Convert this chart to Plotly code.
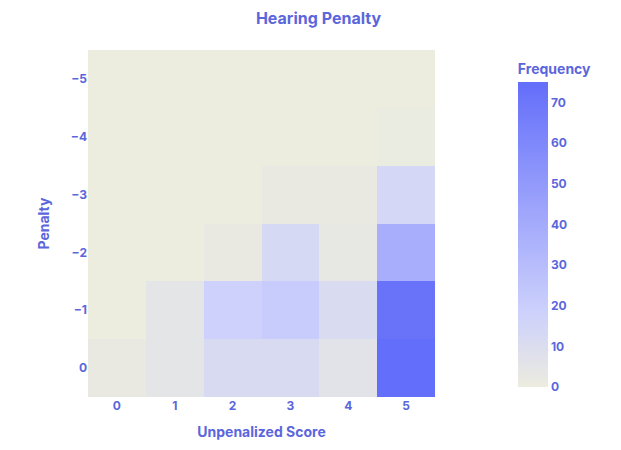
import plotly.graph_objects as go

# Heatmap of penalty vs unpenalized score
scores = [0, 1, 2, 3, 4, 5]
penalties = [0, -1, -2, -3, -4, -5]

# one row per penalty, one column per score
freq_pen_0 = [2, 5, 12, 12, 6, 75]
freq_pen_1 = [0, 5, 18, 21, 11, 72]
freq_pen_2 = [0, 0, 2, 13, 3, 38]
freq_pen_3 = [0, 0, 0, 2, 2, 14]
freq_pen_4 = [0, 0, 0, 0, 0, 1]
freq_pen_5 = [0, 0, 0, 0, 0, 0]

colorbar_ticks = [0, 10, 20, 30, 40, 50, 60, 70]

text_color = '#5b66dc'
font_bold = dict(family='Inter', color=text_color, size=12, weight='bold')
title_font = dict(family='Inter', color=text_color, size=14, weight='bold')

fig = go.Figure(go.Heatmap(
    x=scores,
    y=penalties,
    z=[freq_pen_0, freq_pen_1, freq_pen_2, freq_pen_3, freq_pen_4, freq_pen_5],
    zmin=0,
    zmax=75,
    colorscale=[[0, 'rgb(236,236,223)'], [0.25, 'rgb(204,208,252)'], [1, 'rgb(99,110,250)']],
    colorbar=dict(
        title=dict(text='Frequency', font=title_font),
        tickvals=colorbar_ticks,
        tickfont=font_bold,
        thickness=30,
        outlinewidth=0,
        x=1.21, xanchor='left',
        ticks='',
    ),
))

fig.update_layout(
    width=621, height=450,
    margin=dict(l=80, r=194, t=42, b=61),
    plot_bgcolor='white',
    paper_bgcolor='white',
    title=dict(text='Hearing Penalty', x=0.5, y=0.978, xanchor='center', yanchor='middle',
               font=dict(family='Inter', color=text_color, size=16, weight='bold')),
    font=font_bold,
)
fig.update_xaxes(title=dict(text='Unpenalized Score', font=title_font),
                 tickvals=scores, showgrid=False, zeroline=False, tickfont=font_bold)
fig.update_yaxes(title=dict(text='Penalty', font=title_font, standoff=17),
                 tickvals=penalties, autorange='reversed', showgrid=False, zeroline=False, tickfont=font_bold)

fig.write_html("out.html")
